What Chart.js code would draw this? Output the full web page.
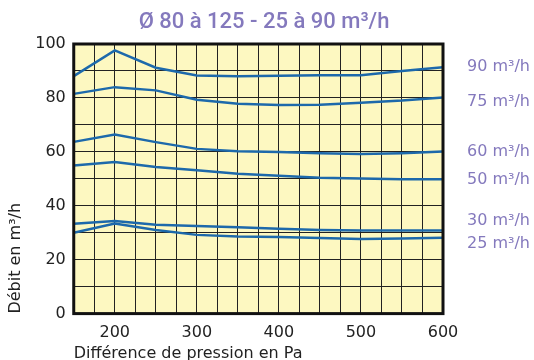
<!DOCTYPE html>
<html>
<head>
<meta charset="utf-8">
<script src="https://cdn.jsdelivr.net/npm/chart.js@4"></script>
<style>
  html, body { margin: 0; padding: 0; background: #fff; }
  #wrap { width: 534px; height: 360px; }
</style>
</head>
<body>
<div id="wrap"><canvas id="chart" width="534" height="360"></canvas></div>
<script>
// Pressure points (Pa)
const pressure = [150, 200, 250, 300, 350, 400, 450, 500, 550, 600];

// Flow curves (m3/h)
const flow90 = [88.1, 97.6, 91.2, 88.3, 88.0, 88.2, 88.4, 88.4, 90.0, 91.4];
const flow75 = [81.5, 84.0, 82.8, 79.3, 77.8, 77.4, 77.5, 78.2, 79.0, 80.2];
const flow60 = [63.7, 66.4, 63.6, 61.1, 60.2, 59.9, 59.5, 59.2, 59.5, 60.1];
const flow50 = [54.9, 56.2, 54.4, 53.2, 51.9, 51.1, 50.4, 50.1, 49.8, 49.8];
const flow30 = [33.3, 34.3, 33.0, 32.5, 32.0, 31.5, 31.0, 30.8, 30.8, 30.8];
const flow25 = [30.0, 33.4, 31.0, 29.2, 28.6, 28.4, 28.0, 27.7, 27.9, 28.1];

const curveLabels = ['90 m³/h', '75 m³/h', '60 m³/h', '50 m³/h', '30 m³/h', '25 m³/h'];
// where each curve label sits on the value scale
const labelAt = [91.5, 78.5, 60, 49.5, 34.5, 26];

const series = [flow90, flow75, flow60, flow50, flow30, flow25];

const titleText = 'Ø 80 à 125 - 25 à 90 m³/h';
const blue = '#1d69ab';
const purple = '#8479bd';
const axisFont = { family: 'DejaVu Sans', size: 16 };

// yellow plot background, heavy frame, title and right-hand labels
const framePlugin = {
  id: 'frame',
  beforeDraw(chart) {
    const { ctx, chartArea: a } = chart;
    ctx.save();
    ctx.fillStyle = '#fdf8c1';
    ctx.fillRect(a.left, a.top, a.right - a.left, a.bottom - a.top);
    ctx.restore();
  },
  afterDraw(chart) {
    const { ctx, chartArea: a } = chart;
    const y = chart.scales.y;
    ctx.save();
    ctx.strokeStyle = '#111';
    ctx.lineWidth = 3;
    ctx.strokeRect(a.left, a.top, a.right - a.left, a.bottom - a.top);

    ctx.fillStyle = purple;
    ctx.textBaseline = 'middle';
    ctx.textAlign = 'center';
    ctx.font = '500 22px Roboto';
    ctx.fillText(titleText, 264, 22);

    ctx.font = '16px "DejaVu Sans"';
    ctx.textAlign = 'left';
    curveLabels.forEach((t, i) => {
      ctx.fillText(t, a.right + 24, y.getPixelForValue(labelAt[i]));
    });
    ctx.restore();
  }
};

new Chart(document.getElementById('chart'), {
  type: 'line',
  data: {
    datasets: series.map((s, i) => ({
      label: curveLabels[i],
      data: pressure.map((p, j) => ({ x: p, y: s[j] })),
      borderColor: blue,
      borderWidth: 2.5,
      pointRadius: 0,
      tension: 0,
      fill: false
    }))
  },
  options: {
    responsive: false,
    animation: false,
    layout: { padding: { top: 44, right: 91, left: 6, bottom: -3 } },
    plugins: {
      legend: { display: false },
      tooltip: { enabled: false },
      title: { display: false }
    },
    scales: {
      x: {
        type: 'linear',
        min: 150,
        max: 600,
        grid: { color: '#222', lineWidth: 1, drawTicks: false },
        border: { display: false },
        ticks: {
          stepSize: 25,
          maxTicksLimit: 25,
          autoSkip: false,
          color: '#222',
          padding: 10,
          maxRotation: 0,
          font: axisFont,
          callback: v => (v % 100 === 0 ? v : '')
        },
        title: {
          display: true,
          text: 'Différence de pression en Pa',
          align: 'start',
          color: '#222',
          font: axisFont,
          padding: { top: -9, bottom: 0 }
        }
      },
      y: {
        min: 0,
        max: 100,
        grid: { color: '#222', lineWidth: 1, drawTicks: false },
        border: { display: false },
        ticks: {
          stepSize: 10,
          color: '#222',
          padding: 8,
          font: axisFont,
          callback: v => (v % 20 === 0 ? v : '')
        },
        title: {
          display: true,
          text: 'Débit en m³/h',
          align: 'start',
          color: '#222',
          font: axisFont,
          padding: { top: 0, bottom: 2 }
        }
      }
    }
  },
  plugins: [framePlugin]
});
</script>
</body>
</html>
